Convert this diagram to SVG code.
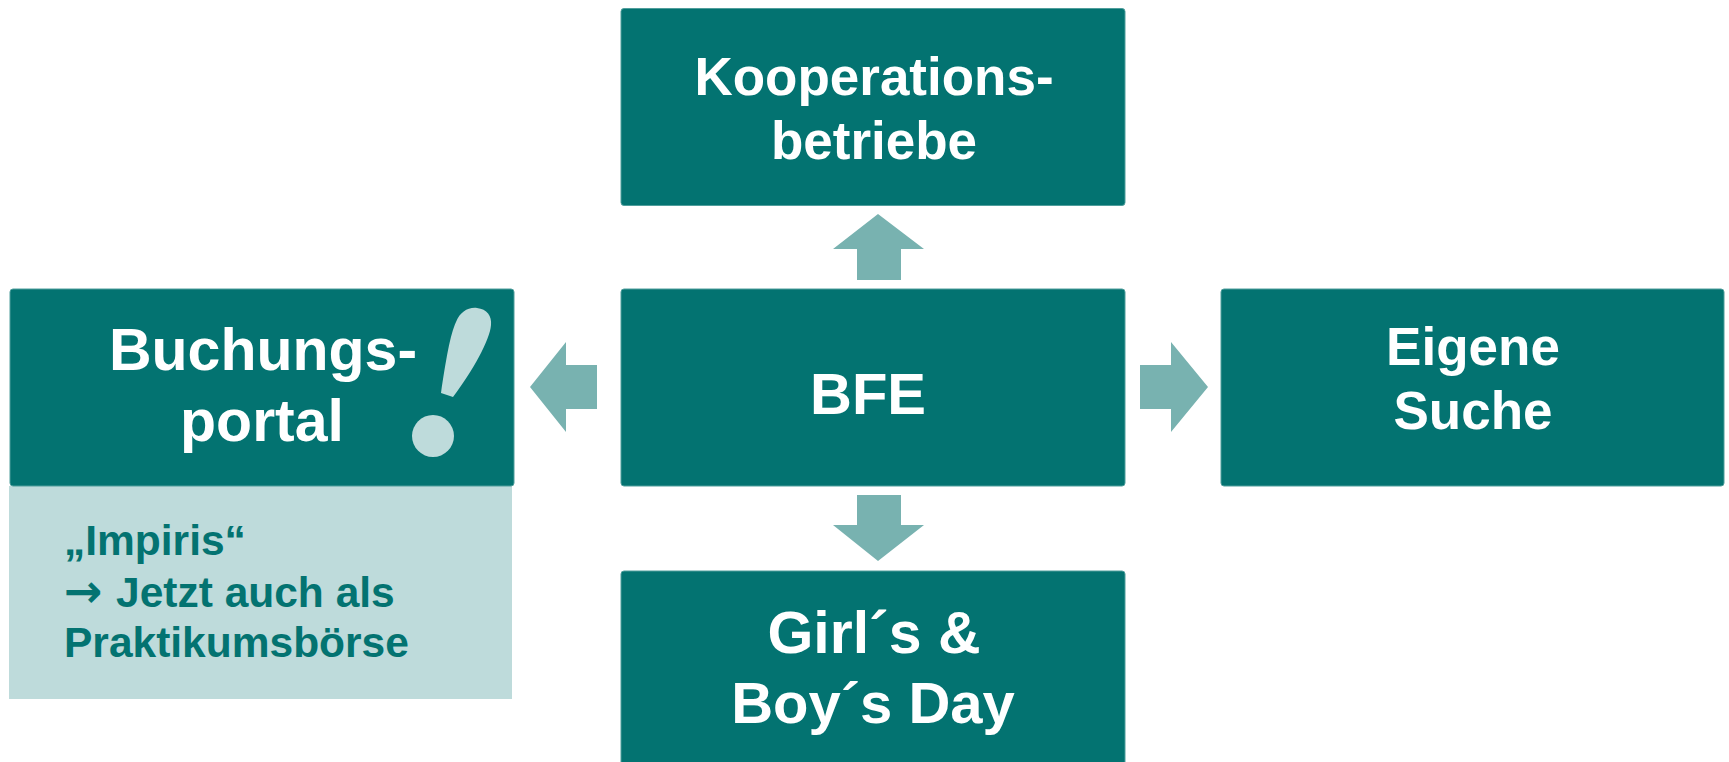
<svg xmlns="http://www.w3.org/2000/svg" width="1729" height="762" viewBox="0 0 1729 762">
<style>
text{font-family:"Liberation Sans",Arial,sans-serif;font-weight:700}
.box{fill:#037371;stroke:#4f9e9c;stroke-width:1}
.t{fill:#fff;text-anchor:middle}
.s{fill:#037371;font-size:42.5px}
.arrow{fill:#78b2b0}
</style>
<rect width="1729" height="762" fill="#fff"/>
<g id="connectors">
<polygon class="arrow" points="878,214 833,249 857,249 857,280 901,280 901,249 924,249"/>
<polygon class="arrow" points="857,495 901,495 901,525 924,525 878,561 833,525 857,525"/>
<polygon class="arrow" points="530,387 566,342 566,365 597,365 597,409 566,409 566,432"/>
<polygon class="arrow" points="1208,387 1171,342 1171,365 1140,365 1140,409 1171,409 1171,432"/>
</g>
<g id="node-kooperation">
<rect class="box" x="621" y="8.500" width="504" height="197" rx="3"/>
<text class="t" font-size="53" x="874" y="95">Kooperations-</text>
<text class="t" font-size="53" x="874" y="159">betriebe</text>
</g>
<g id="node-bfe">
<rect class="box" x="621" y="289" width="504" height="197" rx="3"/>
<text class="t" font-size="58" x="868" y="414">BFE</text>
</g>
<g id="node-suche">
<rect class="box" x="1221" y="289" width="503" height="197" rx="3"/>
<text class="t" font-size="53" x="1473" y="365">Eigene</text>
<text class="t" font-size="53" x="1473" y="429">Suche</text>
</g>
<g id="node-girls">
<rect class="box" x="621" y="571" width="504" height="197" rx="3"/>
<text class="t" font-size="59" x="874" y="653">Girl´s &amp;</text>
<text class="t" font-size="58" x="873" y="723">Boy´s Day</text>
</g>
<g id="node-impiris">
<rect x="9" y="486" width="503" height="213" fill="#bedbdb"/>
<text class="s" x="64" y="555">„Impiris“</text>
<text class="s" x="64" y="607" style="font-family:'DejaVu Sans',sans-serif;font-size:46px">→</text>
<text class="s" x="116" y="607">Jetzt auch als</text>
<text class="s" x="64" y="657">Praktikumsbörse</text>
</g>
<g id="node-buchung">
<rect class="box" x="10" y="289" width="504" height="197" rx="3"/>
<text class="t" font-size="59" x="263" y="370">Buchungs-</text>
<text class="t" font-size="59" x="262" y="441">portal</text>
<path fill="#bedbdb" d="M441 393C446 360 450 335 456 322C460 312 468 307 477 308C487 309 492 316 491 325C490 340 472 372 453 397Z"/>
<ellipse fill="#bedbdb" cx="433" cy="436" rx="21" ry="21"/>
</g>
</svg>
